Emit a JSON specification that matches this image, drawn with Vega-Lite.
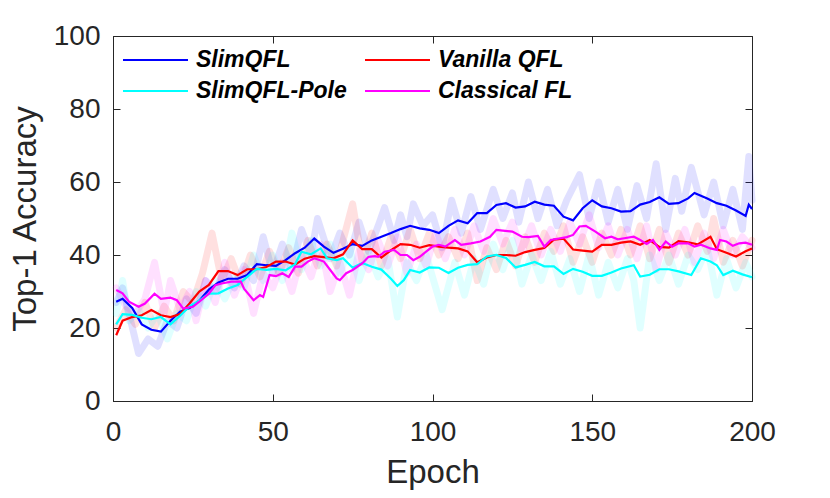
{
  "$schema": "https://vega.github.io/schema/vega-lite/v6.json",
  "width": 639,
  "height": 365,
  "autosize": {"type": "none"},
  "padding": {"left": 113, "top": 36, "right": 78, "bottom": 97},
  "background": "white",
  "config": {
    "view": {"stroke": "#262626", "strokeWidth": 1},
    "axis": {
      "labelFont": "Liberation Sans", "titleFont": "Liberation Sans",
      "labelFontSize": 28, "titleFontSize": 33, "titleFontWeight": "normal",
      "labelColor": "#262626", "titleColor": "#262626",
      "domainColor": "#262626", "tickColor": "#262626",
      "gridColor": "#dfdfdf", "gridOpacity": 1, "tickSize": -7, "labelFlush": false
    }
  },
  "datasets": {
    "smooth": [
      {"series":"SlimQFL","epoch":1,"acc":27.2},{"series":"SlimQFL","epoch":3,"acc":28},{"series":"SlimQFL","epoch":6,"acc":25.5},{"series":"SlimQFL","epoch":9,"acc":21},{"series":"SlimQFL","epoch":12,"acc":19.5},{"series":"SlimQFL","epoch":15,"acc":19},{"series":"SlimQFL","epoch":18,"acc":22},{"series":"SlimQFL","epoch":21,"acc":24.5},{"series":"SlimQFL","epoch":24,"acc":25.5},{"series":"SlimQFL","epoch":27,"acc":27.5},{"series":"SlimQFL","epoch":30,"acc":30.5},{"series":"SlimQFL","epoch":33,"acc":32.5},{"series":"SlimQFL","epoch":36,"acc":33.5},{"series":"SlimQFL","epoch":39,"acc":33.5},{"series":"SlimQFL","epoch":42,"acc":34.5},{"series":"SlimQFL","epoch":45,"acc":37.5},{"series":"SlimQFL","epoch":48,"acc":37.2},{"series":"SlimQFL","epoch":51,"acc":37},{"series":"SlimQFL","epoch":54,"acc":38.6},{"series":"SlimQFL","epoch":57,"acc":40.5},{"series":"SlimQFL","epoch":60,"acc":42},{"series":"SlimQFL","epoch":63,"acc":44.5},{"series":"SlimQFL","epoch":66,"acc":42.3},{"series":"SlimQFL","epoch":69,"acc":40.6},{"series":"SlimQFL","epoch":72,"acc":41.7},{"series":"SlimQFL","epoch":75,"acc":43},{"series":"SlimQFL","epoch":78,"acc":42.5},{"series":"SlimQFL","epoch":81,"acc":44},{"series":"SlimQFL","epoch":84,"acc":45},{"series":"SlimQFL","epoch":87,"acc":46},{"series":"SlimQFL","epoch":90,"acc":47.1},{"series":"SlimQFL","epoch":93,"acc":48},{"series":"SlimQFL","epoch":96,"acc":47.3},{"series":"SlimQFL","epoch":99,"acc":46.9},{"series":"SlimQFL","epoch":102,"acc":46},{"series":"SlimQFL","epoch":105,"acc":48},{"series":"SlimQFL","epoch":108,"acc":49.5},{"series":"SlimQFL","epoch":111,"acc":48.7},{"series":"SlimQFL","epoch":114,"acc":51.5},{"series":"SlimQFL","epoch":117,"acc":51.5},{"series":"SlimQFL","epoch":120,"acc":53.7},{"series":"SlimQFL","epoch":123,"acc":54.2},{"series":"SlimQFL","epoch":126,"acc":53},{"series":"SlimQFL","epoch":129,"acc":53.3},{"series":"SlimQFL","epoch":132,"acc":54.6},{"series":"SlimQFL","epoch":135,"acc":53.8},{"series":"SlimQFL","epoch":138,"acc":53.5},{"series":"SlimQFL","epoch":141,"acc":50.5},{"series":"SlimQFL","epoch":144,"acc":49.5},{"series":"SlimQFL","epoch":147,"acc":52.8},{"series":"SlimQFL","epoch":150,"acc":55},{"series":"SlimQFL","epoch":153,"acc":53.3},{"series":"SlimQFL","epoch":156,"acc":52.8},{"series":"SlimQFL","epoch":159,"acc":51.9},{"series":"SlimQFL","epoch":162,"acc":52},{"series":"SlimQFL","epoch":165,"acc":53.8},{"series":"SlimQFL","epoch":168,"acc":54.5},{"series":"SlimQFL","epoch":171,"acc":55.8},{"series":"SlimQFL","epoch":174,"acc":54},{"series":"SlimQFL","epoch":177,"acc":54.2},{"series":"SlimQFL","epoch":180,"acc":55.5},{"series":"SlimQFL","epoch":182,"acc":57},{"series":"SlimQFL","epoch":186,"acc":55.5},{"series":"SlimQFL","epoch":189,"acc":54.2},{"series":"SlimQFL","epoch":192,"acc":53.5},{"series":"SlimQFL","epoch":195,"acc":52.2},{"series":"SlimQFL","epoch":198,"acc":50.7},{"series":"SlimQFL","epoch":199,"acc":53.8},{"series":"SlimQFL","epoch":200,"acc":52.6},

      {"series":"Vanilla QFL","epoch":1,"acc":18},{"series":"Vanilla QFL","epoch":3,"acc":22},{"series":"Vanilla QFL","epoch":6,"acc":23},{"series":"Vanilla QFL","epoch":9,"acc":23.5},{"series":"Vanilla QFL","epoch":12,"acc":24.9},{"series":"Vanilla QFL","epoch":15,"acc":23.5},{"series":"Vanilla QFL","epoch":18,"acc":23},{"series":"Vanilla QFL","epoch":21,"acc":23.8},{"series":"Vanilla QFL","epoch":24,"acc":26.8},{"series":"Vanilla QFL","epoch":27,"acc":30},{"series":"Vanilla QFL","epoch":30,"acc":31.8},{"series":"Vanilla QFL","epoch":33,"acc":35.6},{"series":"Vanilla QFL","epoch":36,"acc":35.6},{"series":"Vanilla QFL","epoch":39,"acc":34.5},{"series":"Vanilla QFL","epoch":42,"acc":36.1},{"series":"Vanilla QFL","epoch":45,"acc":36.1},{"series":"Vanilla QFL","epoch":48,"acc":36.7},{"series":"Vanilla QFL","epoch":51,"acc":38.2},{"series":"Vanilla QFL","epoch":54,"acc":38.2},{"series":"Vanilla QFL","epoch":57,"acc":37.4},{"series":"Vanilla QFL","epoch":60,"acc":39},{"series":"Vanilla QFL","epoch":63,"acc":39.7},{"series":"Vanilla QFL","epoch":66,"acc":39.4},{"series":"Vanilla QFL","epoch":69,"acc":39.1},{"series":"Vanilla QFL","epoch":72,"acc":40.2},{"series":"Vanilla QFL","epoch":75,"acc":44},{"series":"Vanilla QFL","epoch":78,"acc":41.6},{"series":"Vanilla QFL","epoch":81,"acc":41.6},{"series":"Vanilla QFL","epoch":84,"acc":39.3},{"series":"Vanilla QFL","epoch":87,"acc":41.3},{"series":"Vanilla QFL","epoch":90,"acc":43},{"series":"Vanilla QFL","epoch":93,"acc":42.8},{"series":"Vanilla QFL","epoch":96,"acc":42},{"series":"Vanilla QFL","epoch":99,"acc":42.7},{"series":"Vanilla QFL","epoch":102,"acc":42.3},{"series":"Vanilla QFL","epoch":105,"acc":42},{"series":"Vanilla QFL","epoch":108,"acc":41.8},{"series":"Vanilla QFL","epoch":111,"acc":41},{"series":"Vanilla QFL","epoch":114,"acc":38},{"series":"Vanilla QFL","epoch":117,"acc":39.3},{"series":"Vanilla QFL","epoch":120,"acc":40},{"series":"Vanilla QFL","epoch":123,"acc":40},{"series":"Vanilla QFL","epoch":126,"acc":39.8},{"series":"Vanilla QFL","epoch":129,"acc":40.8},{"series":"Vanilla QFL","epoch":132,"acc":41.4},{"series":"Vanilla QFL","epoch":135,"acc":41.9},{"series":"Vanilla QFL","epoch":138,"acc":44.2},{"series":"Vanilla QFL","epoch":141,"acc":44.5},{"series":"Vanilla QFL","epoch":144,"acc":41.5},{"series":"Vanilla QFL","epoch":147,"acc":41.2},{"series":"Vanilla QFL","epoch":150,"acc":40.9},{"series":"Vanilla QFL","epoch":153,"acc":42.8},{"series":"Vanilla QFL","epoch":156,"acc":42.8},{"series":"Vanilla QFL","epoch":159,"acc":43.4},{"series":"Vanilla QFL","epoch":162,"acc":43.7},{"series":"Vanilla QFL","epoch":165,"acc":42.8},{"series":"Vanilla QFL","epoch":168,"acc":44.1},{"series":"Vanilla QFL","epoch":171,"acc":42.2},{"series":"Vanilla QFL","epoch":174,"acc":42},{"series":"Vanilla QFL","epoch":177,"acc":43.8},{"series":"Vanilla QFL","epoch":180,"acc":43.5},{"series":"Vanilla QFL","epoch":183,"acc":42.9},{"series":"Vanilla QFL","epoch":187,"acc":45},{"series":"Vanilla QFL","epoch":189,"acc":41.6},{"series":"Vanilla QFL","epoch":192,"acc":40.6},{"series":"Vanilla QFL","epoch":195,"acc":39.6},{"series":"Vanilla QFL","epoch":198,"acc":41},{"series":"Vanilla QFL","epoch":200,"acc":41.8},

      {"series":"SlimQFL-Pole","epoch":1,"acc":21},{"series":"SlimQFL-Pole","epoch":3,"acc":23.8},{"series":"SlimQFL-Pole","epoch":6,"acc":23.6},{"series":"SlimQFL-Pole","epoch":9,"acc":22.8},{"series":"SlimQFL-Pole","epoch":12,"acc":22.4},{"series":"SlimQFL-Pole","epoch":15,"acc":23},{"series":"SlimQFL-Pole","epoch":18,"acc":21},{"series":"SlimQFL-Pole","epoch":21,"acc":23.4},{"series":"SlimQFL-Pole","epoch":24,"acc":26},{"series":"SlimQFL-Pole","epoch":27,"acc":27.5},{"series":"SlimQFL-Pole","epoch":30,"acc":29.4},{"series":"SlimQFL-Pole","epoch":33,"acc":29.5},{"series":"SlimQFL-Pole","epoch":36,"acc":30.8},{"series":"SlimQFL-Pole","epoch":39,"acc":31.8},{"series":"SlimQFL-Pole","epoch":42,"acc":34},{"series":"SlimQFL-Pole","epoch":45,"acc":36.2},{"series":"SlimQFL-Pole","epoch":48,"acc":35.9},{"series":"SlimQFL-Pole","epoch":51,"acc":36.2},{"series":"SlimQFL-Pole","epoch":54,"acc":35.8},{"series":"SlimQFL-Pole","epoch":57,"acc":37.5},{"series":"SlimQFL-Pole","epoch":59,"acc":40.9},{"series":"SlimQFL-Pole","epoch":62,"acc":40.2},{"series":"SlimQFL-Pole","epoch":65,"acc":41.8},{"series":"SlimQFL-Pole","epoch":67,"acc":39.1},{"series":"SlimQFL-Pole","epoch":70,"acc":38.6},{"series":"SlimQFL-Pole","epoch":72,"acc":39.1},{"series":"SlimQFL-Pole","epoch":75,"acc":36.5},{"series":"SlimQFL-Pole","epoch":78,"acc":37.8},{"series":"SlimQFL-Pole","epoch":81,"acc":36.8},{"series":"SlimQFL-Pole","epoch":84,"acc":36},{"series":"SlimQFL-Pole","epoch":87,"acc":33.5},{"series":"SlimQFL-Pole","epoch":89,"acc":31.5},{"series":"SlimQFL-Pole","epoch":91,"acc":33.1},{"series":"SlimQFL-Pole","epoch":93,"acc":35.9},{"series":"SlimQFL-Pole","epoch":96,"acc":35.2},{"series":"SlimQFL-Pole","epoch":99,"acc":36.6},{"series":"SlimQFL-Pole","epoch":102,"acc":36.5},{"series":"SlimQFL-Pole","epoch":105,"acc":35.1},{"series":"SlimQFL-Pole","epoch":108,"acc":36.5},{"series":"SlimQFL-Pole","epoch":111,"acc":37.3},{"series":"SlimQFL-Pole","epoch":114,"acc":37.5},{"series":"SlimQFL-Pole","epoch":117,"acc":39.6},{"series":"SlimQFL-Pole","epoch":120,"acc":40},{"series":"SlimQFL-Pole","epoch":123,"acc":39.2},{"series":"SlimQFL-Pole","epoch":126,"acc":36.6},{"series":"SlimQFL-Pole","epoch":129,"acc":37.3},{"series":"SlimQFL-Pole","epoch":132,"acc":38.1},{"series":"SlimQFL-Pole","epoch":135,"acc":36.9},{"series":"SlimQFL-Pole","epoch":138,"acc":36.9},{"series":"SlimQFL-Pole","epoch":141,"acc":34.8},{"series":"SlimQFL-Pole","epoch":144,"acc":36.2},{"series":"SlimQFL-Pole","epoch":147,"acc":35.4},{"series":"SlimQFL-Pole","epoch":150,"acc":34.3},{"series":"SlimQFL-Pole","epoch":153,"acc":34.3},{"series":"SlimQFL-Pole","epoch":156,"acc":35.2},{"series":"SlimQFL-Pole","epoch":159,"acc":36.3},{"series":"SlimQFL-Pole","epoch":163,"acc":37.2},{"series":"SlimQFL-Pole","epoch":165,"acc":34.1},{"series":"SlimQFL-Pole","epoch":168,"acc":34.6},{"series":"SlimQFL-Pole","epoch":171,"acc":36.1},{"series":"SlimQFL-Pole","epoch":174,"acc":36.1},{"series":"SlimQFL-Pole","epoch":177,"acc":35.5},{"series":"SlimQFL-Pole","epoch":181,"acc":34.5},{"series":"SlimQFL-Pole","epoch":184,"acc":39.1},{"series":"SlimQFL-Pole","epoch":187,"acc":38.2},{"series":"SlimQFL-Pole","epoch":189,"acc":37.2},{"series":"SlimQFL-Pole","epoch":191,"acc":34.5},{"series":"SlimQFL-Pole","epoch":194,"acc":35.7},{"series":"SlimQFL-Pole","epoch":197,"acc":34.7},{"series":"SlimQFL-Pole","epoch":200,"acc":33.9},

      {"series":"Classical FL","epoch":1,"acc":30.4},{"series":"Classical FL","epoch":3,"acc":29.5},{"series":"Classical FL","epoch":5,"acc":27.2},{"series":"Classical FL","epoch":8,"acc":25.8},{"series":"Classical FL","epoch":10,"acc":26.7},{"series":"Classical FL","epoch":13,"acc":29.4},{"series":"Classical FL","epoch":15,"acc":28},{"series":"Classical FL","epoch":18,"acc":28.3},{"series":"Classical FL","epoch":20,"acc":27.6},{"series":"Classical FL","epoch":22,"acc":25.3},{"series":"Classical FL","epoch":25,"acc":25.8},{"series":"Classical FL","epoch":27,"acc":27.2},{"series":"Classical FL","epoch":30,"acc":29.4},{"series":"Classical FL","epoch":32,"acc":31.7},{"series":"Classical FL","epoch":34,"acc":32.2},{"series":"Classical FL","epoch":37,"acc":32.7},{"series":"Classical FL","epoch":40,"acc":32.7},{"series":"Classical FL","epoch":41,"acc":30.8},{"series":"Classical FL","epoch":44,"acc":27.6},{"series":"Classical FL","epoch":46,"acc":29},{"series":"Classical FL","epoch":47,"acc":28.5},{"series":"Classical FL","epoch":49,"acc":34.5},{"series":"Classical FL","epoch":51,"acc":34.2},{"series":"Classical FL","epoch":53,"acc":35},{"series":"Classical FL","epoch":55,"acc":34},{"series":"Classical FL","epoch":57,"acc":36.8},{"series":"Classical FL","epoch":59,"acc":36.8},{"series":"Classical FL","epoch":61,"acc":38.2},{"series":"Classical FL","epoch":63,"acc":39.1},{"series":"Classical FL","epoch":66,"acc":38.2},{"series":"Classical FL","epoch":68,"acc":35.9},{"series":"Classical FL","epoch":70,"acc":33.6},{"series":"Classical FL","epoch":71,"acc":33.1},{"series":"Classical FL","epoch":73,"acc":35},{"series":"Classical FL","epoch":75,"acc":35.9},{"series":"Classical FL","epoch":78,"acc":37.7},{"series":"Classical FL","epoch":80,"acc":39.5},{"series":"Classical FL","epoch":82,"acc":39.7},{"series":"Classical FL","epoch":83,"acc":39.5},{"series":"Classical FL","epoch":85,"acc":40.9},{"series":"Classical FL","epoch":88,"acc":41.4},{"series":"Classical FL","epoch":90,"acc":40},{"series":"Classical FL","epoch":92,"acc":40},{"series":"Classical FL","epoch":94,"acc":38.6},{"series":"Classical FL","epoch":96,"acc":39.5},{"series":"Classical FL","epoch":98,"acc":40.9},{"series":"Classical FL","epoch":100,"acc":42.3},{"series":"Classical FL","epoch":102,"acc":42.8},{"series":"Classical FL","epoch":104,"acc":42.3},{"series":"Classical FL","epoch":107,"acc":44.1},{"series":"Classical FL","epoch":109,"acc":42.8},{"series":"Classical FL","epoch":112,"acc":43.2},{"series":"Classical FL","epoch":115,"acc":43.7},{"series":"Classical FL","epoch":118,"acc":45},{"series":"Classical FL","epoch":120,"acc":46.9},{"series":"Classical FL","epoch":122,"acc":46.7},{"series":"Classical FL","epoch":125,"acc":46.4},{"series":"Classical FL","epoch":128,"acc":45},{"series":"Classical FL","epoch":130,"acc":44.9},{"series":"Classical FL","epoch":133,"acc":45.2},{"series":"Classical FL","epoch":135,"acc":42.3},{"series":"Classical FL","epoch":137,"acc":44.1},{"series":"Classical FL","epoch":140,"acc":44.6},{"series":"Classical FL","epoch":142,"acc":44.9},{"series":"Classical FL","epoch":144,"acc":45.5},{"series":"Classical FL","epoch":146,"acc":47.8},{"series":"Classical FL","epoch":148,"acc":48},{"series":"Classical FL","epoch":151,"acc":46.4},{"series":"Classical FL","epoch":154,"acc":44.6},{"series":"Classical FL","epoch":156,"acc":45},{"series":"Classical FL","epoch":158,"acc":44.3},{"series":"Classical FL","epoch":160,"acc":44.6},{"series":"Classical FL","epoch":163,"acc":45},{"series":"Classical FL","epoch":165,"acc":44.1},{"series":"Classical FL","epoch":167,"acc":43},{"series":"Classical FL","epoch":169,"acc":44.1},{"series":"Classical FL","epoch":171,"acc":41.4},{"series":"Classical FL","epoch":173,"acc":43.7},{"series":"Classical FL","epoch":175,"acc":42.3},{"series":"Classical FL","epoch":177,"acc":43.2},{"series":"Classical FL","epoch":180,"acc":43.2},{"series":"Classical FL","epoch":182,"acc":42.3},{"series":"Classical FL","epoch":184,"acc":42.8},{"series":"Classical FL","epoch":187,"acc":41.8},{"series":"Classical FL","epoch":189,"acc":41.4},{"series":"Classical FL","epoch":190,"acc":44.1},{"series":"Classical FL","epoch":192,"acc":43.7},{"series":"Classical FL","epoch":194,"acc":42.5},{"series":"Classical FL","epoch":196,"acc":43.2},{"series":"Classical FL","epoch":198,"acc":43.4},{"series":"Classical FL","epoch":200,"acc":42.8}
    ],
    "raw": [
      {"series":"SlimQFL","epoch":1,"acc":27},{"series":"SlimQFL","epoch":3,"acc":31},{"series":"SlimQFL","epoch":5,"acc":24},{"series":"SlimQFL","epoch":8,"acc":13},{"series":"SlimQFL","epoch":11,"acc":17},{"series":"SlimQFL","epoch":14,"acc":15},{"series":"SlimQFL","epoch":17,"acc":22},{"series":"SlimQFL","epoch":20,"acc":20},{"series":"SlimQFL","epoch":23,"acc":28},{"series":"SlimQFL","epoch":26,"acc":24},{"series":"SlimQFL","epoch":29,"acc":33},{"series":"SlimQFL","epoch":32,"acc":30},{"series":"SlimQFL","epoch":35,"acc":36},{"series":"SlimQFL","epoch":38,"acc":31},{"series":"SlimQFL","epoch":41,"acc":37},{"series":"SlimQFL","epoch":44,"acc":33},{"series":"SlimQFL","epoch":47,"acc":45},{"series":"SlimQFL","epoch":50,"acc":35},{"series":"SlimQFL","epoch":53,"acc":43},{"series":"SlimQFL","epoch":56,"acc":36},{"series":"SlimQFL","epoch":59,"acc":47},{"series":"SlimQFL","epoch":62,"acc":40},{"series":"SlimQFL","epoch":64,"acc":50},{"series":"SlimQFL","epoch":68,"acc":39},{"series":"SlimQFL","epoch":71,"acc":46},{"series":"SlimQFL","epoch":74,"acc":40},{"series":"SlimQFL","epoch":77,"acc":49},{"series":"SlimQFL","epoch":80,"acc":41},{"series":"SlimQFL","epoch":83,"acc":48},{"series":"SlimQFL","epoch":85,"acc":53},{"series":"SlimQFL","epoch":88,"acc":44},{"series":"SlimQFL","epoch":90,"acc":51},{"series":"SlimQFL","epoch":92,"acc":45},{"series":"SlimQFL","epoch":94,"acc":54},{"series":"SlimQFL","epoch":97,"acc":48},{"series":"SlimQFL","epoch":100,"acc":51},{"series":"SlimQFL","epoch":103,"acc":42},{"series":"SlimQFL","epoch":106,"acc":55},{"series":"SlimQFL","epoch":109,"acc":46},{"series":"SlimQFL","epoch":112,"acc":56},{"series":"SlimQFL","epoch":115,"acc":47},{"series":"SlimQFL","epoch":119,"acc":58},{"series":"SlimQFL","epoch":122,"acc":50},{"series":"SlimQFL","epoch":125,"acc":57},{"series":"SlimQFL","epoch":127,"acc":49},{"series":"SlimQFL","epoch":130,"acc":60},{"series":"SlimQFL","epoch":133,"acc":50},{"series":"SlimQFL","epoch":136,"acc":58},{"series":"SlimQFL","epoch":139,"acc":48},{"series":"SlimQFL","epoch":142,"acc":55},{"series":"SlimQFL","epoch":146,"acc":62},{"series":"SlimQFL","epoch":149,"acc":50},{"series":"SlimQFL","epoch":152,"acc":60},{"series":"SlimQFL","epoch":155,"acc":49},{"series":"SlimQFL","epoch":158,"acc":58},{"series":"SlimQFL","epoch":161,"acc":47},{"series":"SlimQFL","epoch":164,"acc":59},{"series":"SlimQFL","epoch":167,"acc":50},{"series":"SlimQFL","epoch":170,"acc":65},{"series":"SlimQFL","epoch":173,"acc":47},{"series":"SlimQFL","epoch":176,"acc":61},{"series":"SlimQFL","epoch":178,"acc":52},{"series":"SlimQFL","epoch":181,"acc":64},{"series":"SlimQFL","epoch":185,"acc":51},{"series":"SlimQFL","epoch":188,"acc":60},{"series":"SlimQFL","epoch":191,"acc":48},{"series":"SlimQFL","epoch":194,"acc":58},{"series":"SlimQFL","epoch":197,"acc":47},{"series":"SlimQFL","epoch":199,"acc":67},{"series":"SlimQFL","epoch":200,"acc":55},

      {"series":"Vanilla QFL","epoch":1,"acc":20},{"series":"Vanilla QFL","epoch":4,"acc":25},{"series":"Vanilla QFL","epoch":7,"acc":21},{"series":"Vanilla QFL","epoch":10,"acc":27},{"series":"Vanilla QFL","epoch":13,"acc":20},{"series":"Vanilla QFL","epoch":16,"acc":26},{"series":"Vanilla QFL","epoch":19,"acc":22},{"series":"Vanilla QFL","epoch":22,"acc":30},{"series":"Vanilla QFL","epoch":25,"acc":27},{"series":"Vanilla QFL","epoch":28,"acc":35},{"series":"Vanilla QFL","epoch":31,"acc":46},{"series":"Vanilla QFL","epoch":34,"acc":33},{"series":"Vanilla QFL","epoch":37,"acc":39},{"series":"Vanilla QFL","epoch":40,"acc":32},{"series":"Vanilla QFL","epoch":43,"acc":40},{"series":"Vanilla QFL","epoch":46,"acc":34},{"series":"Vanilla QFL","epoch":49,"acc":41},{"series":"Vanilla QFL","epoch":52,"acc":35},{"series":"Vanilla QFL","epoch":55,"acc":42},{"series":"Vanilla QFL","epoch":58,"acc":35},{"series":"Vanilla QFL","epoch":61,"acc":44},{"series":"Vanilla QFL","epoch":64,"acc":37},{"series":"Vanilla QFL","epoch":67,"acc":43},{"series":"Vanilla QFL","epoch":70,"acc":37},{"series":"Vanilla QFL","epoch":72,"acc":44},{"series":"Vanilla QFL","epoch":75,"acc":54},{"series":"Vanilla QFL","epoch":78,"acc":38},{"series":"Vanilla QFL","epoch":81,"acc":46},{"series":"Vanilla QFL","epoch":84,"acc":37},{"series":"Vanilla QFL","epoch":87,"acc":45},{"series":"Vanilla QFL","epoch":90,"acc":39},{"series":"Vanilla QFL","epoch":93,"acc":47},{"series":"Vanilla QFL","epoch":96,"acc":39},{"series":"Vanilla QFL","epoch":99,"acc":46},{"series":"Vanilla QFL","epoch":102,"acc":40},{"series":"Vanilla QFL","epoch":105,"acc":45},{"series":"Vanilla QFL","epoch":108,"acc":39},{"series":"Vanilla QFL","epoch":111,"acc":46},{"series":"Vanilla QFL","epoch":114,"acc":33},{"series":"Vanilla QFL","epoch":117,"acc":42},{"series":"Vanilla QFL","epoch":120,"acc":36},{"series":"Vanilla QFL","epoch":123,"acc":44},{"series":"Vanilla QFL","epoch":126,"acc":37},{"series":"Vanilla QFL","epoch":129,"acc":45},{"series":"Vanilla QFL","epoch":132,"acc":38},{"series":"Vanilla QFL","epoch":135,"acc":46},{"series":"Vanilla QFL","epoch":138,"acc":41},{"series":"Vanilla QFL","epoch":141,"acc":48},{"series":"Vanilla QFL","epoch":144,"acc":38},{"series":"Vanilla QFL","epoch":147,"acc":45},{"series":"Vanilla QFL","epoch":150,"acc":38},{"series":"Vanilla QFL","epoch":153,"acc":46},{"series":"Vanilla QFL","epoch":156,"acc":40},{"series":"Vanilla QFL","epoch":159,"acc":47},{"series":"Vanilla QFL","epoch":162,"acc":40},{"series":"Vanilla QFL","epoch":165,"acc":48},{"series":"Vanilla QFL","epoch":168,"acc":39},{"series":"Vanilla QFL","epoch":171,"acc":47},{"series":"Vanilla QFL","epoch":174,"acc":38},{"series":"Vanilla QFL","epoch":177,"acc":46},{"series":"Vanilla QFL","epoch":180,"acc":40},{"series":"Vanilla QFL","epoch":183,"acc":48},{"series":"Vanilla QFL","epoch":186,"acc":41},{"series":"Vanilla QFL","epoch":188,"acc":50},{"series":"Vanilla QFL","epoch":191,"acc":38},{"series":"Vanilla QFL","epoch":194,"acc":44},{"series":"Vanilla QFL","epoch":197,"acc":37},{"series":"Vanilla QFL","epoch":200,"acc":44},

      {"series":"SlimQFL-Pole","epoch":1,"acc":24},{"series":"SlimQFL-Pole","epoch":3,"acc":33},{"series":"SlimQFL-Pole","epoch":5,"acc":22},{"series":"SlimQFL-Pole","epoch":8,"acc":25},{"series":"SlimQFL-Pole","epoch":11,"acc":20},{"series":"SlimQFL-Pole","epoch":14,"acc":24},{"series":"SlimQFL-Pole","epoch":17,"acc":17},{"series":"SlimQFL-Pole","epoch":20,"acc":24},{"series":"SlimQFL-Pole","epoch":23,"acc":22},{"series":"SlimQFL-Pole","epoch":26,"acc":30},{"series":"SlimQFL-Pole","epoch":29,"acc":26},{"series":"SlimQFL-Pole","epoch":32,"acc":33},{"series":"SlimQFL-Pole","epoch":35,"acc":28},{"series":"SlimQFL-Pole","epoch":38,"acc":34},{"series":"SlimQFL-Pole","epoch":41,"acc":31},{"series":"SlimQFL-Pole","epoch":44,"acc":40},{"series":"SlimQFL-Pole","epoch":47,"acc":33},{"series":"SlimQFL-Pole","epoch":50,"acc":40},{"series":"SlimQFL-Pole","epoch":53,"acc":33},{"series":"SlimQFL-Pole","epoch":56,"acc":46},{"series":"SlimQFL-Pole","epoch":59,"acc":36},{"series":"SlimQFL-Pole","epoch":62,"acc":44},{"series":"SlimQFL-Pole","epoch":65,"acc":37},{"series":"SlimQFL-Pole","epoch":68,"acc":43},{"series":"SlimQFL-Pole","epoch":71,"acc":35},{"series":"SlimQFL-Pole","epoch":74,"acc":42},{"series":"SlimQFL-Pole","epoch":77,"acc":33},{"series":"SlimQFL-Pole","epoch":80,"acc":41},{"series":"SlimQFL-Pole","epoch":83,"acc":34},{"series":"SlimQFL-Pole","epoch":86,"acc":39},{"series":"SlimQFL-Pole","epoch":89,"acc":23},{"series":"SlimQFL-Pole","epoch":92,"acc":38},{"series":"SlimQFL-Pole","epoch":95,"acc":33},{"series":"SlimQFL-Pole","epoch":98,"acc":40},{"series":"SlimQFL-Pole","epoch":101,"acc":31},{"series":"SlimQFL-Pole","epoch":103,"acc":25},{"series":"SlimQFL-Pole","epoch":107,"acc":38},{"series":"SlimQFL-Pole","epoch":110,"acc":29},{"series":"SlimQFL-Pole","epoch":113,"acc":39},{"series":"SlimQFL-Pole","epoch":116,"acc":32},{"series":"SlimQFL-Pole","epoch":119,"acc":43},{"series":"SlimQFL-Pole","epoch":122,"acc":36},{"series":"SlimQFL-Pole","epoch":125,"acc":44},{"series":"SlimQFL-Pole","epoch":128,"acc":32},{"series":"SlimQFL-Pole","epoch":131,"acc":40},{"series":"SlimQFL-Pole","epoch":134,"acc":33},{"series":"SlimQFL-Pole","epoch":137,"acc":41},{"series":"SlimQFL-Pole","epoch":140,"acc":32},{"series":"SlimQFL-Pole","epoch":143,"acc":39},{"series":"SlimQFL-Pole","epoch":146,"acc":30},{"series":"SlimQFL-Pole","epoch":149,"acc":40},{"series":"SlimQFL-Pole","epoch":152,"acc":29},{"series":"SlimQFL-Pole","epoch":155,"acc":38},{"series":"SlimQFL-Pole","epoch":158,"acc":31},{"series":"SlimQFL-Pole","epoch":161,"acc":39},{"series":"SlimQFL-Pole","epoch":163,"acc":33},{"series":"SlimQFL-Pole","epoch":165,"acc":20},{"series":"SlimQFL-Pole","epoch":168,"acc":40},{"series":"SlimQFL-Pole","epoch":171,"acc":33},{"series":"SlimQFL-Pole","epoch":174,"acc":40},{"series":"SlimQFL-Pole","epoch":177,"acc":32},{"series":"SlimQFL-Pole","epoch":180,"acc":40},{"series":"SlimQFL-Pole","epoch":183,"acc":36},{"series":"SlimQFL-Pole","epoch":186,"acc":42},{"series":"SlimQFL-Pole","epoch":189,"acc":29},{"series":"SlimQFL-Pole","epoch":192,"acc":39},{"series":"SlimQFL-Pole","epoch":195,"acc":31},{"series":"SlimQFL-Pole","epoch":198,"acc":38},{"series":"SlimQFL-Pole","epoch":200,"acc":34},

      {"series":"Classical FL","epoch":1,"acc":31},{"series":"Classical FL","epoch":4,"acc":26},{"series":"Classical FL","epoch":7,"acc":24},{"series":"Classical FL","epoch":10,"acc":28},{"series":"Classical FL","epoch":13,"acc":38},{"series":"Classical FL","epoch":16,"acc":24},{"series":"Classical FL","epoch":18,"acc":33},{"series":"Classical FL","epoch":21,"acc":25},{"series":"Classical FL","epoch":24,"acc":30},{"series":"Classical FL","epoch":26,"acc":22},{"series":"Classical FL","epoch":29,"acc":33},{"series":"Classical FL","epoch":32,"acc":27},{"series":"Classical FL","epoch":35,"acc":38},{"series":"Classical FL","epoch":38,"acc":29},{"series":"Classical FL","epoch":41,"acc":36},{"series":"Classical FL","epoch":44,"acc":24},{"series":"Classical FL","epoch":47,"acc":35},{"series":"Classical FL","epoch":50,"acc":31},{"series":"Classical FL","epoch":53,"acc":38},{"series":"Classical FL","epoch":56,"acc":30},{"series":"Classical FL","epoch":59,"acc":40},{"series":"Classical FL","epoch":62,"acc":34},{"series":"Classical FL","epoch":65,"acc":43},{"series":"Classical FL","epoch":68,"acc":30},{"series":"Classical FL","epoch":71,"acc":38},{"series":"Classical FL","epoch":74,"acc":29},{"series":"Classical FL","epoch":77,"acc":41},{"series":"Classical FL","epoch":80,"acc":36},{"series":"Classical FL","epoch":83,"acc":44},{"series":"Classical FL","epoch":86,"acc":37},{"series":"Classical FL","epoch":89,"acc":45},{"series":"Classical FL","epoch":92,"acc":35},{"series":"Classical FL","epoch":95,"acc":43},{"series":"Classical FL","epoch":98,"acc":37},{"series":"Classical FL","epoch":101,"acc":46},{"series":"Classical FL","epoch":104,"acc":39},{"series":"Classical FL","epoch":107,"acc":47},{"series":"Classical FL","epoch":110,"acc":40},{"series":"Classical FL","epoch":113,"acc":48},{"series":"Classical FL","epoch":116,"acc":41},{"series":"Classical FL","epoch":119,"acc":50},{"series":"Classical FL","epoch":122,"acc":43},{"series":"Classical FL","epoch":125,"acc":49},{"series":"Classical FL","epoch":128,"acc":41},{"series":"Classical FL","epoch":131,"acc":48},{"series":"Classical FL","epoch":134,"acc":40},{"series":"Classical FL","epoch":137,"acc":47},{"series":"Classical FL","epoch":140,"acc":41},{"series":"Classical FL","epoch":143,"acc":49},{"series":"Classical FL","epoch":146,"acc":43},{"series":"Classical FL","epoch":149,"acc":51},{"series":"Classical FL","epoch":152,"acc":42},{"series":"Classical FL","epoch":155,"acc":48},{"series":"Classical FL","epoch":158,"acc":40},{"series":"Classical FL","epoch":161,"acc":47},{"series":"Classical FL","epoch":164,"acc":39},{"series":"Classical FL","epoch":167,"acc":48},{"series":"Classical FL","epoch":170,"acc":36},{"series":"Classical FL","epoch":173,"acc":46},{"series":"Classical FL","epoch":176,"acc":40},{"series":"Classical FL","epoch":179,"acc":47},{"series":"Classical FL","epoch":182,"acc":38},{"series":"Classical FL","epoch":185,"acc":46},{"series":"Classical FL","epoch":188,"acc":39},{"series":"Classical FL","epoch":191,"acc":47},{"series":"Classical FL","epoch":194,"acc":40},{"series":"Classical FL","epoch":197,"acc":45},{"series":"Classical FL","epoch":200,"acc":42}
    ]
  },
  "layer": [
    {
      "data": {"name": "raw"},
      "mark": {"type": "line", "strokeWidth": 7, "opacity": 0.12, "strokeJoin": "round", "strokeCap": "round"},
      "encoding": {
        "x": {"field": "epoch", "type": "quantitative", "scale": {"domain": [0, 200], "nice": false},
              "axis": {"orient": "top", "labels": false, "title": null, "grid": false, "domain": false, "values": [0, 50, 100, 150, 200]}},
        "y": {"field": "acc", "type": "quantitative", "scale": {"domain": [0, 100], "nice": false},
              "axis": {"orient": "right", "labels": false, "title": null, "grid": false, "domain": false, "values": [0, 20, 40, 60, 80, 100]}},
        "color": {"field": "series", "type": "nominal", "legend": null,
                  "scale": {"domain": ["SlimQFL", "SlimQFL-Pole", "Vanilla QFL", "Classical FL"], "range": ["#0000ff", "#00ffff", "#ff0000", "#ff00ff"]}}
      }
    },
    {
      "data": {"name": "smooth"},
      "mark": {"type": "line", "strokeWidth": 2.2},
      "encoding": {
        "x": {"field": "epoch", "type": "quantitative", "scale": {"domain": [0, 200], "nice": false},
              "axis": {"orient": "bottom", "title": "Epoch", "values": [0, 50, 100, 150, 200], "labelPadding": 24, "titlePadding": 10}},
        "y": {"field": "acc", "type": "quantitative", "scale": {"domain": [0, 100], "nice": false},
              "axis": {"orient": "left", "title": "Top-1 Accuracy", "values": [0, 20, 40, 60, 80, 100], "labelPadding": 20, "titlePadding": 11}},
        "color": {"field": "series", "type": "nominal",
                  "scale": {"domain": ["SlimQFL", "SlimQFL-Pole", "Vanilla QFL", "Classical FL"], "range": ["#0000ff", "#00ffff", "#ff0000", "#ff00ff"]},
                  "legend": {"orient": "none", "legendX": 9, "legendY": 14, "title": null, "columns": 2,
                             "symbolType": "stroke", "symbolSize": 4225, "symbolStrokeWidth": 2, "clipHeight": 20,
                             "labelFont": "Liberation Sans", "labelFontSize": 23, "labelFontStyle": "italic", "labelFontWeight": "bold",
                             "labelColor": "black", "labelOffset": 7, "columnPadding": 17, "rowPadding": 8, "padding": 0, "labelLimit": 0}}
      }
    }
  ],
  "resolve": {"scale": {"color": "independent"}, "axis": {"x": "independent", "y": "independent"}}
}
